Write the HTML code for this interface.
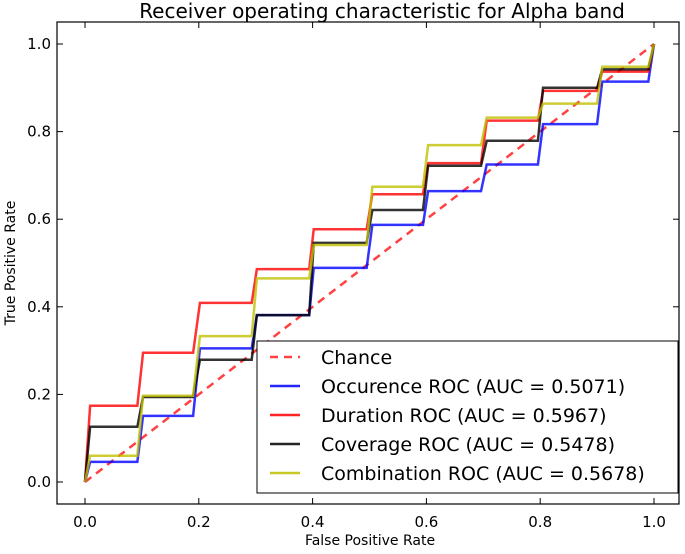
<!DOCTYPE html>
<html><head><meta charset="utf-8"><style>
body{margin:0;background:#fff}
svg text{font-family:"DejaVu Sans","Liberation Sans",sans-serif;fill:#000}
</style></head><body>
<svg id="chart" width="685" height="549" xmlns="http://www.w3.org/2000/svg">
<g id="plot"></g>
</svg>
<script>
const fprPoints=[0,0.009,0.092,0.102,0.19,0.202,0.293,0.302,0.394,0.402,0.495,0.505,0.594,0.603,0.696,0.706,0.796,0.805,0.90,0.909,0.99,1.0];
const occurenceLevels=[0.046,0.151,0.305,0.381,0.489,0.587,0.664,0.725,0.817,0.914];
const durationLevels=[0.174,0.295,0.409,0.486,0.577,0.657,0.728,0.825,0.893,0.937];
const coverageLevels=[0.126,0.194,0.279,0.381,0.546,0.621,0.722,0.779,0.900,0.942];
const combinationLevels=[0.060,0.197,0.333,0.465,0.541,0.674,0.769,0.832,0.864,0.948];
const xTicks=[0,0.2,0.4,0.6,0.8,1.0];
const yTicks=[0,0.2,0.4,0.6,0.8,1.0];
const legendLabels=["Chance","Occurence ROC (AUC = 0.5071)","Duration ROC (AUC = 0.5967)","Coverage ROC (AUC = 0.5478)","Combination ROC (AUC = 0.5678)"];

const NS="http://www.w3.org/2000/svg";
const g=document.getElementById('plot');
const X=v=>85+v*569, Y=v=>482-v*438;
function mk(t,a,p){const e=document.createElementNS(NS,t);for(const k in a)e.setAttribute(k,a[k]);(p||g).appendChild(e);return e;}

const fr=mk('rect',{x:57,y:22,width:622,height:482,fill:'none',stroke:'#000','stroke-width':1.2});



xTicks.forEach(t=>{
  mk('line',{x1:X(t),x2:X(t),y1:504,y2:498,stroke:'#000'});
  mk('line',{x1:X(t),x2:X(t),y1:22,y2:28,stroke:'#000'});
  const tx=mk('text',{x:X(t),y:527,'font-size':15,'text-anchor':'middle'});tx.textContent=t.toFixed(1);
  
  
});
yTicks.forEach(t=>{
  mk('line',{x1:57,x2:63,y1:Y(t),y2:Y(t),stroke:'#000'});
  mk('line',{x1:679,x2:673,y1:Y(t),y2:Y(t),stroke:'#000'});
  const tx=mk('text',{x:51,y:Y(t)+5,'font-size':15,'text-anchor':'end'});tx.textContent=t.toFixed(1);
  
  
});

const ch=mk('line',{x1:X(0),y1:Y(0),x2:X(1),y2:Y(1),stroke:'#ff2020','stroke-width':2.5,'stroke-dasharray':'8,6',opacity:0.85});



function curve(levels,color,name){
  const pts=[[0,0]];
  for(let i=0;i<levels.length;i++){
    pts.push([fprPoints[2*i+1],levels[i]]);
    pts.push([fprPoints[2*i+2],levels[i]]);
  }
  pts.push([1,1]);
  const p=mk('polyline',{points:pts.map(q=>X(q[0])+','+Y(q[1])).join(' '),fill:'none',stroke:color,'stroke-width':2.5,opacity:0.8});
  
  
}
curve(occurenceLevels,'#0000ff','occurence-roc-line');
curve(durationLevels,'#ff0000','duration-roc-line');
curve(coverageLevels,'#000000','coverage-roc-line');
curve(combinationLevels,'#bfbf00','combination-roc-line');

const lg=mk('g',{});


mk('rect',{x:257,y:341,width:421,height:152,fill:'#fff',stroke:'#000','stroke-width':1},lg);
const lc=['#ff2020','#0000ff','#ff0000','#000000','#bfbf00'];
legendLabels.forEach((l,i)=>{
  const y=357+i*29;
  const ln=mk('line',{x1:270,x2:300,y1:y,y2:y,stroke:lc[i],'stroke-width':2.5,opacity:0.85},lg);
  if(i==0)ln.setAttribute('stroke-dasharray','8,6');
  const tx=mk('text',{x:321,y:y+7,'font-size':19},lg);tx.textContent=l;
  
  
});

const t=mk('text',{x:382,y:18,'font-size':20,'text-anchor':'middle'});t.textContent='Receiver operating characteristic for Alpha band';


const xl=mk('text',{x:370,y:545,'font-size':14,'text-anchor':'middle'});xl.textContent='False Positive Rate';


const yl=mk('text',{x:0,y:0,'font-size':14,'text-anchor':'middle',transform:'translate(15,263) rotate(-90)'});yl.textContent='True Positive Rate';


</script>
</body></html>
